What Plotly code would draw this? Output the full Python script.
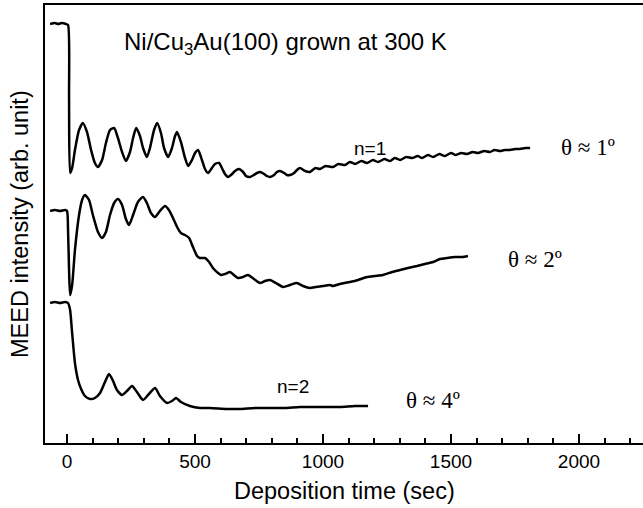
import plotly.graph_objects as go

# ---- data (time in s, intensity in arb. units) ----
t1 = [-66, -47, -35, -20, -4, 4, 8, 12, 20, 31, 47, 62, 78, 94, 109, 121, 137, 152, 168, 184,
      199, 215, 230, 246, 258, 270, 285, 297, 312, 324, 340, 352, 367, 379, 395, 410, 422, 430,
      445, 461, 473, 488, 500, 512, 527, 539, 551, 566, 578, 594, 605, 617, 629, 645, 656, 672,
      688, 699, 715, 730, 742, 754, 770, 781, 793, 809, 820, 832, 848, 859, 871, 887, 898, 910,
      930, 949, 970, 988, 1010, 1039, 1060, 1086, 1105, 1125, 1150, 1172, 1195, 1215, 1240, 1262,
      1280, 1301, 1325, 1348, 1370, 1387, 1410, 1430, 1455, 1476, 1500, 1519, 1540, 1562, 1585,
      1605, 1630, 1652, 1670, 1691, 1710, 1730, 1750, 1769, 1790, 1809]
i1 = [419, 420, 419, 420, 419, 418, 343, 270, 275, 293, 313, 320, 311, 293, 280, 276, 283, 300, 313, 315,
      305, 291, 282, 291, 305, 315, 307, 295, 286, 295, 313, 320, 310, 295, 286, 295, 307, 311,
      301, 285, 277, 283, 290, 293, 283, 274, 270, 275, 279, 280, 275, 269, 266, 269, 272, 274,
      271, 267, 266, 268, 270, 271, 269, 267, 266, 268, 271, 272, 270, 268, 268, 270, 273, 275,
      272, 271, 275, 274, 277, 276, 279, 278, 281, 279, 282, 280, 283, 281, 284, 282,
      285, 283, 286, 285, 287, 285, 288, 286, 289, 287, 290, 288, 290, 289, 291,
      290, 292, 291, 293, 292, 293, 293, 294, 294, 295, 295]

t2 = [-66, -47, -27, -8, 0, 4, 8, 12, 20, 31, 47, 59, 70, 86, 101, 121, 137, 152, 168, 184,
      199, 215, 230, 242, 258, 277, 297, 312, 328, 344, 363, 383, 398, 414, 430, 445, 461, 477,
      492, 508, 519, 539, 555, 570, 590, 602, 617, 637, 652, 668, 688, 707, 730, 754, 773, 793,
      816, 844, 871, 898, 922, 949, 973, 1000, 1027, 1039, 1066, 1105, 1137, 1172, 1203, 1234,
      1270, 1301, 1332, 1367, 1398, 1430, 1457, 1484, 1516, 1543, 1566]
i2 = [232, 233, 232, 233, 232, 213, 173, 148, 158, 193, 228, 243, 248, 243, 228, 211, 205, 211, 228, 240,
      244, 238, 224, 218, 228, 241, 246, 240, 230, 226, 232, 237, 233, 225, 216, 210, 208, 205,
      196, 187, 185, 185, 181, 175, 170, 168, 169, 171, 168, 165, 166, 168, 164, 160, 162, 163,
      160, 156, 158, 160, 157, 155, 156, 157, 158, 157, 159, 161, 163, 166, 167, 168,
      171, 173, 175, 177, 179, 181, 184, 185, 186, 186, 187]

t3 = [-66, -47, -27, -8, 4, 12, 19, 31, 43, 55, 70, 90, 109, 129, 145, 164, 180, 195, 215, 234,
      254, 273, 297, 320, 344, 363, 391, 410, 426, 445, 480, 520, 559, 625, 676, 734, 793, 852,
      910, 988, 1066, 1125, 1176]
i3 = [140, 141, 140, 141, 140, 133, 113, 80, 63, 54, 47, 44, 45, 50, 59, 69, 62, 53, 48, 52,
      57, 51, 43, 49, 55, 47, 40, 42, 45, 41, 37, 35, 35, 34, 34, 35, 35, 35,
      36, 36, 36, 37, 37]

x_ticks = [0, 500, 1000, 1500, 2000]
x_tick_labels = ["0", "500", "1000", "1500", "2000"]

LINE = dict(color="black", width=2.5, shape="spline", smoothing=0.6)

fig = go.Figure()
for t, i in [(t1, i1), (t2, i2), (t3, i3)]:
    fig.add_trace(go.Scatter(x=t, y=i, mode="lines", line=LINE, showlegend=False, hoverinfo="skip"))

SANS = "Liberation Sans, Arial, sans-serif"
SERIF = "Liberation Serif, Times New Roman, serif"

annotations = [
    dict(x=855, y=400, text="Ni/Cu<sub>3</sub>Au(100) grown at 300 K", font=dict(family=SANS, size=24, color="black")),
    dict(x=1184, y=295, text="n=1", font=dict(family=SANS, size=19, color="black")),
    dict(x=883, y=57, text="n=2", font=dict(family=SANS, size=19, color="black")),
    dict(x=2035, y=296, text="θ ≈ 1º", font=dict(family=SERIF, size=23, color="black")),
    dict(x=1828, y=184, text="θ ≈ 2º", font=dict(family=SERIF, size=23, color="black")),
    dict(x=1430, y=43, text="θ ≈ 4º", font=dict(family=SERIF, size=23, color="black")),
]
for a in annotations:
    a.update(xref="x", yref="y", showarrow=False, xanchor="center", yanchor="middle")

annotations.append(dict(xref="paper", yref="paper", x=0, y=0.5, xshift=-25, textangle=-90,
                        text="MEED intensity (arb. unit)", showarrow=False, xanchor="center", yanchor="middle",
                        font=dict(family=SANS, size=23.5, color="black")))
annotations.append(dict(xref="paper", yref="paper", x=0.5, y=0, yshift=-48,
                        text="Deposition time (sec)", showarrow=False, xanchor="center", yanchor="middle",
                        font=dict(family=SANS, size=23.5, color="black")))

fig.update_layout(
    width=643, height=508,
    margin=dict(l=45, r=0, t=5, b=65),
    paper_bgcolor="white", plot_bgcolor="white",
    annotations=annotations,
    xaxis=dict(range=[-86, 2250], showgrid=False, zeroline=False,
               showline=True, linecolor="black", linewidth=2, mirror=True,
               ticks="inside", ticklen=9, tickwidth=2, tickcolor="black",
               tickvals=x_ticks, ticktext=x_tick_labels,
               tickfont=dict(family=SANS, size=19, color="black"),
               minor=dict(dtick=100, tick0=0, ticks="inside", ticklen=5, tickwidth=2, tickcolor="black")),
    yaxis=dict(range=[0, 438], showgrid=False, zeroline=False, showticklabels=False,
               showline=True, linecolor="black", linewidth=2, ticks=""),
)

fig.write_html("out.html")
